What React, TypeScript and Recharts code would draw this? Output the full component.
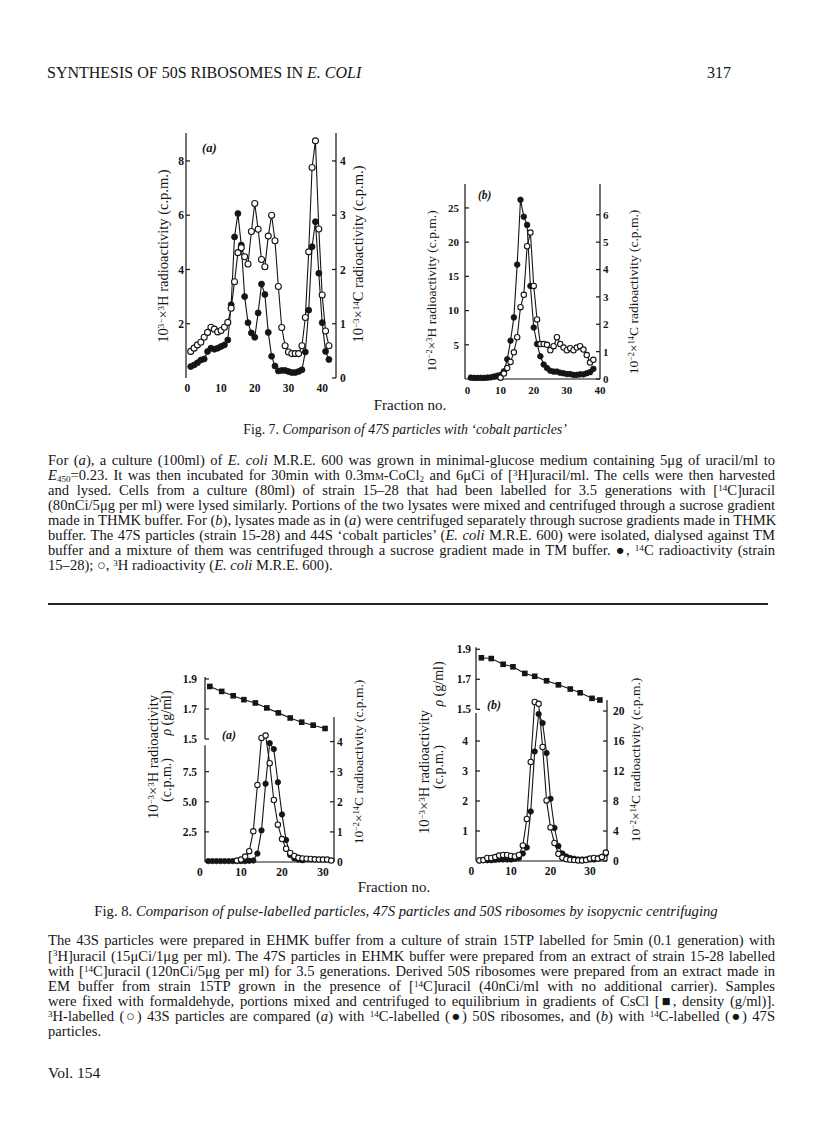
import React from 'react';
import { LineChart, Line, XAxis, YAxis, ReferenceLine } from 'recharts';

const SERIF = '"Liberation Serif", "Times New Roman", serif';
const INK = '#151515';

// ---------- Fig. 7a (fractions start at 1) ----------
const f7aStart = 1;
const f7aH3 = [0.98, 1.1, 1.22, 1.32, 1.5, 1.68, 1.87, 1.8, 1.7, 1.75, 1.87, 2.05, 2.57, 3.55, 4.62, 4.8, 4.47, 4.2, 5.4, 6.43, 5.48, 4.37, 4.1, 5.23, 6.0, 5.06, 3.37, 1.86, 1.19, 0.96, 0.9, 0.9, 0.9, 1.19, 2.23, 4.65, 7.76, 8.74, 5.49, 3.06, 1.73, 1.19];
const f7aC14 = [0.21, 0.24, 0.28, 0.33, 0.35, 0.49, 0.55, 0.53, 0.55, 0.58, 0.61, 0.7, 1.35, 2.6, 3.03, 2.45, 1.5, 1.02, 0.83, 0.75, 1.2, 1.73, 1.54, 0.84, 0.4, 0.22, 0.13, 0.14, 0.14, 0.12, 0.1, 0.1, 0.12, 0.15, 0.48, 1.25, 2.42, 2.88, 1.93, 1.02, 0.49, 0.34];
const f7aXTicks = [0, 10, 20, 30, 40];
const f7aLeftTicks = [2, 4, 6, 8];
const f7aRightTicks = [0, 1, 2, 3, 4];

// ---------- Fig. 7b ----------
const f7bC14Start = 1;
const f7bC14 = [0.05, 0.04, 0.04, 0.04, 0.04, 0.05, 0.06, 0.09, 0.12, 0.15, 0.28, 0.72, 1.4, 2.25, 4.18, 6.55, 5.93, 5.63, 3.4, 1.88, 1.28, 0.83, 0.53, 0.4, 0.3, 0.27, 0.27, 0.23, 0.21, 0.18, 0.18, 0.15, 0.15, 0.17, 0.17, 0.21, 0.25, 0.37];
const f7bH3Start = 10;
const f7bH3 = [0.2, 0.8, 1.6, 2.5, 3.9, 6.1, 10.5, 12.3, 19.4, 21.4, 13.6, 8.7, 5.1, 5.1, 5.0, 4.2, 4.8, 6.1, 5.1, 4.6, 4.2, 4.5, 4.2, 4.6, 4.8, 4.3, 3.5, 2.4, 2.8];
const f7bXTicks = [0, 10, 20, 30, 40];
const f7bLeftTicks = [5, 10, 15, 20, 25];
const f7bRightTicks = [0, 1, 2, 3, 4, 5, 6];

// ---------- Fig. 8a ----------
const f8aH3Start = 9;
const f8aH3 = [0.12, 0.2, 0.45, 0.9, 2.55, 6.4, 10.3, 10.5, 8.2, 5.15, 3.1, 1.9, 1.1, 0.75, 0.5, 0.35, 0.3, 0.28, 0.25, 0.22, 0.2, 0.2, 0.2, 0.12];
const f8aC14Start = 2;
const f8aC14 = [0.03, 0.03, 0.03, 0.03, 0.03, 0.03, 0.03, 0.03, 0.03, 0.03, 0.04, 0.05, 0.28, 1.05, 2.6, 3.95, 3.75, 2.65, 1.58, 0.73, 0.23, 0.12, 0.08, 0.06];
const f8aDensityX = [2.4, 5.3, 8.1, 10.7, 13.5, 16.3, 19.1, 22, 24.8, 27.6, 30.5];
const f8aDensity = [1.85, 1.817, 1.788, 1.762, 1.74, 1.707, 1.674, 1.64, 1.612, 1.592, 1.57];
const f8aXTicks = [0, 10, 20, 30];
const f8aLeftTicks = [2.5, 5.0, 7.5];
const f8aRightTicks = [0, 1, 2, 3, 4];

// ---------- Fig. 8b ----------
const f8bH3Start = 2;
const f8bH3 = [0.02, 0.03, 0.1, 0.1, 0.13, 0.18, 0.2, 0.2, 0.17, 0.15, 0.2, 0.52, 1.4, 3.3, 5.3, 5.24, 3.8, 2.02, 1.12, 0.6, 0.24, 0.11, 0.06, 0.04, 0.03, 0.02, 0.02, 0.03, 0.08, 0.1, 0.08, 0.13, 0.28];
const f8bC14Start = 2;
const f8bC14 = [0.1, 0.1, 0.1, 0.1, 0.15, 0.2, 0.2, 0.2, 0.2, 0.3, 0.4, 1.0, 1.8, 6.6, 14.6, 19.6, 18.4, 14.4, 8.3, 4.4, 2.0, 1.0, 0.6, 0.4, 0.3, 0.2, 0.2, 0.2, 0.2, 0.2, 0.3, 0.5, 1.0];
const f8bDensityX = [2.5, 5, 8, 10.5, 13.5, 16, 19, 22, 25, 27.5, 30.5, 32.5];
const f8bDensity = [1.843, 1.838, 1.8, 1.783, 1.739, 1.72, 1.69, 1.663, 1.635, 1.61, 1.573, 1.562];
const f8bXTicks = [0, 10, 20, 30];
const f8bLeftTicks = [1, 2, 3, 4];
const f8bRightTicks = [0, 4, 8, 12, 16, 20];
const densityTicks = [1.5, 1.7, 1.9];

const seq = (start: number, vals: number[]) => vals.map((y, i) => ({ x: start + i, y }));
const pairs = (xs: number[], vals: number[]) => vals.map((y, i) => ({ x: xs[i], y }));

const tickFont = (size: number) => ({ fontFamily: SERIF, fontSize: size, fill: INK, fontWeight: 700 });
const axisStroke = { stroke: INK, strokeWidth: 1.2 };

const openDot = (r: number) => ({ r, fill: '#fff', stroke: INK, strokeWidth: 1.1 });
const filledDot = (r: number) => ({ r, fill: INK, stroke: INK, strokeWidth: 0.8 });

const SquareDot = (props: any) => {
  const { cx, cy, index } = props;
  if (cx == null || cy == null) return <g key={`sq-${index}`} />;
  return <rect key={`sq-${index}`} x={cx - 2.8} y={cy - 2.8} width={5.6} height={5.6} fill={INK} />;
};

const Sup = ({ children }: { children: React.ReactNode }) => (
  <span style={{ fontSize: '0.62em', position: 'relative', top: '-0.45em', lineHeight: 0 }}>{children}</span>
);
const Sub = ({ children }: { children: React.ReactNode }) => (
  <span style={{ fontSize: '0.62em', position: 'relative', top: '0.25em', lineHeight: 0 }}>{children}</span>
);

const VLabel = ({ x, y, size, children }: { x: number; y: number; size: number; children: React.ReactNode }) => (
  <div
    style={{
      position: 'absolute',
      left: x,
      top: y,
      transform: 'translate(-50%, -50%) rotate(-90deg)',
      whiteSpace: 'nowrap',
      fontFamily: SERIF,
      fontSize: size,
      lineHeight: 1,
      color: INK,
    }}
  >
    {children}
  </div>
);

const Abs = ({ x, y, children, style }: { x: number; y: number; children: React.ReactNode; style?: React.CSSProperties }) => (
  <div style={{ position: 'absolute', left: x, top: y, whiteSpace: 'nowrap', fontFamily: SERIF, color: INK, ...style }}>{children}</div>
);

const Centered = ({ cx, cy, size, children }: { cx: number; cy: number; size: number; children: React.ReactNode }) => (
  <div
    style={{
      position: 'absolute',
      left: cx,
      top: cy,
      transform: 'translate(-50%, -50%)',
      whiteSpace: 'nowrap',
      fontFamily: SERIF,
      fontSize: size,
      lineHeight: 1.2,
      color: INK,
    }}
  >
    {children}
  </div>
);

const LH = 15.15;
const TextLine = ({ children, last }: { children: React.ReactNode; last?: boolean }) => (
  <div
    style={{
      height: LH,
      lineHeight: `${LH}px`,
      whiteSpace: 'nowrap',
      textAlign: 'justify',
      textAlignLast: last ? 'left' : 'justify',
    } as React.CSSProperties}
  >
    {children}
  </div>
);

const Paragraph = ({ top, children }: { top: number; children: React.ReactNode }) => (
  <div style={{ position: 'absolute', left: 48, top, width: 727, fontFamily: SERIF, fontSize: 14.6, color: INK }}>{children}</div>
);

const sm = { fontVariant: 'small-caps' } as React.CSSProperties;

function Fig7a() {
  return (
    <div style={{ position: 'absolute', left: 150, top: 120 }}>
      <LineChart width={230} height={285} margin={{ top: 13, right: 0, bottom: 0, left: 0 }}>
        <XAxis type="number" dataKey="x" domain={[-0.4, 44.1]} ticks={f7aXTicks} interval={0} axisLine={false} tickLine={false} tickSize={3} tickMargin={3} height={27} tick={tickFont(11.5)} />
        <YAxis yAxisId="l" domain={[0, 9.03]} ticks={f7aLeftTicks} interval={0} width={36} axisLine={axisStroke} tickLine={axisStroke} tickSize={-4} tickMargin={6} tick={tickFont(11.5)} />
        <YAxis yAxisId="r" orientation="right" domain={[0, 4.515]} ticks={f7aRightTicks} interval={0} width={44} axisLine={axisStroke} tickLine={axisStroke} tickSize={-4} tickMargin={8} tick={tickFont(11.5)} />
        <Line yAxisId="r" data={seq(f7aStart, f7aC14)} dataKey="y" type="linear" stroke={INK} strokeWidth={1.1} dot={filledDot(3)} activeDot={false} isAnimationActive={false} />
        <Line yAxisId="l" data={seq(f7aStart, f7aH3)} dataKey="y" type="linear" stroke={INK} strokeWidth={1.1} dot={openDot(3)} activeDot={false} isAnimationActive={false} />
      </LineChart>
    </div>
  );
}

function Fig7b() {
  return (
    <div style={{ position: 'absolute', left: 420, top: 170 }}>
      <LineChart width={240} height={235} margin={{ top: 14, right: 0, bottom: 0, left: 0 }}>
        <XAxis type="number" dataKey="x" domain={[-0.75, 40]} ticks={f7bXTicks} interval={0} axisLine={axisStroke} tickLine={false} tickSize={3} tickMargin={4} height={26} tick={tickFont(11)} />
        <YAxis yAxisId="l" domain={[0, 28.5]} ticks={f7bLeftTicks} interval={0} width={45} axisLine={axisStroke} tickLine={axisStroke} tickSize={-4} tickMargin={10} tick={tickFont(11)} />
        <YAxis yAxisId="r" orientation="right" domain={[0, 7.125]} ticks={f7bRightTicks} interval={0} width={60} axisLine={axisStroke} tickLine={axisStroke} tickSize={-4} tickMargin={7} tick={tickFont(11)} />
        <Line yAxisId="r" data={seq(f7bC14Start, f7bC14)} dataKey="y" type="linear" stroke={INK} strokeWidth={1.1} dot={filledDot(2.8)} activeDot={false} isAnimationActive={false} />
        <Line yAxisId="l" data={seq(f7bH3Start, f7bH3)} dataKey="y" type="linear" stroke={INK} strokeWidth={1.1} dot={openDot(2.7)} activeDot={false} isAnimationActive={false} />
      </LineChart>
    </div>
  );
}

function Fig8a() {
  const xDom: [number, number] = [1.22, 32.68];
  return (
    <>
      <div style={{ position: 'absolute', left: 140, top: 660 }}>
        <LineChart width={240} height={235} margin={{ top: 57, right: 0, bottom: 0, left: 0 }}>
          <XAxis type="number" dataKey="x" domain={xDom} ticks={f8aXTicks} interval={0} axisLine={axisStroke} tickLine={false} tickSize={3} tickMargin={3} height={33} tick={tickFont(11.5)} />
          <YAxis yAxisId="l" domain={[0, 12.04]} ticks={f8aLeftTicks} interval={0} tickFormatter={(v: number) => v.toFixed(1)} width={65} axisLine={false} tickLine={axisStroke} tickSize={-4} tickMargin={12} tick={tickFont(11.5)} />
          <YAxis yAxisId="r" orientation="right" domain={[0, 4.817]} ticks={f8aRightTicks} interval={0} width={46} axisLine={axisStroke} tickLine={axisStroke} tickSize={-4} tickMargin={7} tick={tickFont(11.5)} />
          <ReferenceLine yAxisId="l" segment={[{ x: xDom[0], y: 0 }, { x: xDom[0], y: 9.7 }]} stroke={INK} strokeWidth={1.2} ifOverflow="visible" />
          <Line yAxisId="r" data={seq(f8aC14Start, f8aC14)} dataKey="y" type="linear" stroke={INK} strokeWidth={1.1} dot={filledDot(2.7)} activeDot={false} isAnimationActive={false} />
          <Line yAxisId="l" data={seq(f8aH3Start, f8aH3)} dataKey="y" type="linear" stroke={INK} strokeWidth={1.1} dot={openDot(2.7)} activeDot={false} isAnimationActive={false} />
        </LineChart>
      </div>
      <div style={{ position: 'absolute', left: 140, top: 660 }}>
        <LineChart width={240} height={85} margin={{ top: 17, right: 46, bottom: 6, left: 0 }}>
          <XAxis type="number" dataKey="x" domain={xDom} hide />
          <YAxis domain={[1.5, 1.913]} ticks={densityTicks} interval={0} tickFormatter={(v: number) => v.toFixed(1)} width={65} axisLine={axisStroke} tickLine={axisStroke} tickSize={-4} tickMargin={12} tick={tickFont(11.5)} />
          <Line data={pairs(f8aDensityX, f8aDensity)} dataKey="y" type="linear" stroke={INK} strokeWidth={1.1} dot={SquareDot} activeDot={false} isAnimationActive={false} />
        </LineChart>
      </div>
    </>
  );
}

function Fig8b() {
  const xDom: [number, number] = [1.14, 34.3];
  return (
    <>
      <div style={{ position: 'absolute', left: 405, top: 630 }}>
        <LineChart width={250} height={265} margin={{ top: 70, right: 0, bottom: 0, left: 0 }}>
          <XAxis type="number" dataKey="x" domain={xDom} ticks={f8bXTicks} interval={0} axisLine={axisStroke} tickLine={false} tickSize={3} tickMargin={3} height={34} tick={tickFont(11.5)} />
          <YAxis yAxisId="l" domain={[0, 5.367]} ticks={f8bLeftTicks} interval={0} width={71} axisLine={false} tickLine={axisStroke} tickSize={-4} tickMargin={12} tick={tickFont(11.5)} />
          <YAxis yAxisId="r" orientation="right" domain={[0, 21.47]} ticks={f8bRightTicks} interval={0} width={48} axisLine={axisStroke} tickLine={axisStroke} tickSize={-4} tickMargin={10} tick={tickFont(11.5)} />
          <ReferenceLine yAxisId="l" segment={[{ x: xDom[0], y: 0 }, { x: xDom[0], y: 4.93 }]} stroke={INK} strokeWidth={1.2} ifOverflow="visible" />
          <Line yAxisId="r" data={seq(f8bC14Start, f8bC14)} dataKey="y" type="linear" stroke={INK} strokeWidth={1.1} dot={filledDot(2.7)} activeDot={false} isAnimationActive={false} />
          <Line yAxisId="l" data={seq(f8bH3Start, f8bH3)} dataKey="y" type="linear" stroke={INK} strokeWidth={1.1} dot={openDot(2.7)} activeDot={false} isAnimationActive={false} />
        </LineChart>
      </div>
      <div style={{ position: 'absolute', left: 405, top: 630 }}>
        <LineChart width={250} height={85} margin={{ top: 17.3, right: 48, bottom: 5.7, left: 0 }}>
          <XAxis type="number" dataKey="x" domain={xDom} hide />
          <YAxis domain={[1.5, 1.913]} ticks={densityTicks} interval={0} tickFormatter={(v: number) => v.toFixed(1)} width={71} axisLine={axisStroke} tickLine={axisStroke} tickSize={-4} tickMargin={9} tick={tickFont(11.5)} />
          <Line data={pairs(f8bDensityX, f8bDensity)} dataKey="y" type="linear" stroke={INK} strokeWidth={1.1} dot={SquareDot} activeDot={false} isAnimationActive={false} />
        </LineChart>
      </div>
    </>
  );
}

export default function App() {
  return (
    <div style={{ position: 'absolute', left: 0, top: 0, width: 816, height: 1136, background: '#fff', overflow: 'hidden' }}>
      {/* running head */}
      <Abs x={47} y={63} style={{ fontSize: 16, lineHeight: '20px' }}>
        SYNTHESIS OF 50S RIBOSOMES IN <i>E. COLI</i>
      </Abs>
      <div style={{ position: 'absolute', right: 85, top: 63, fontFamily: SERIF, fontSize: 16, lineHeight: '20px', color: INK }}>317</div>

      {/* Fig 7 */}
      <Fig7a />
      <Fig7b />
      <Abs x={202} y={140} style={{ fontSize: 12.5, fontStyle: 'italic', fontWeight: 700, lineHeight: '16px' }}>(a)</Abs>
      <Abs x={478} y={187} style={{ fontSize: 11.5, fontStyle: 'italic', fontWeight: 700, lineHeight: '16px' }}>(b)</Abs>
      <VLabel x={163} y={256} size={14.5}>10<Sup>3−</Sup>×<Sup>3</Sup>H radioactivity (c.p.m.)</VLabel>
      <VLabel x={358} y={254} size={14.5}>10<Sup>−3</Sup>×<Sup>14</Sup>C radioactivity (c.p.m.)</VLabel>
      <VLabel x={432} y={291} size={13.5}>10<Sup>−2</Sup>×<Sup>3</Sup>H radioactivity (c.p.m.)</VLabel>
      <VLabel x={634} y={292} size={13.5}>10<Sup>−2</Sup>×<Sup>14</Sup>C radioactivity (c.p.m.)</VLabel>
      <Centered cx={410} cy={405} size={15}>Fraction no.</Centered>
      <Centered cx={405} cy={430} size={13.8}>Fig. 7. <i>Comparison of 47S particles with ‘cobalt particles’</i></Centered>

      <Paragraph top={452.5}>
        <TextLine>For (<i>a</i>), a culture (100ml) of <i>E. coli</i> M.R.E. 600 was grown in minimal-glucose medium containing 5μg of uracil/ml to</TextLine>
        <TextLine><i>E</i><Sub>450</Sub>=0.23. It was then incubated for 30min with 0.3m<span style={sm}>m</span>-CoCl<Sub>2</Sub> and 6μCi of [<Sup>3</Sup>H]uracil/ml. The cells were then harvested</TextLine>
        <TextLine>and lysed. Cells from a culture (80ml) of strain 15–28 that had been labelled for 3.5 generations with [<Sup>14</Sup>C]uracil</TextLine>
        <TextLine>(80nCi/5μg per ml) were lysed similarly. Portions of the two lysates were mixed and centrifuged through a sucrose gradient</TextLine>
        <TextLine>made in THMK buffer. For (<i>b</i>), lysates made as in (<i>a</i>) were centrifuged separately through sucrose gradients made in THMK</TextLine>
        <TextLine>buffer. The 47S particles (strain 15-28) and 44S ‘cobalt particles’ (<i>E. coli</i> M.R.E. 600) were isolated, dialysed against TM</TextLine>
        <TextLine>buffer and a mixture of them was centrifuged through a sucrose gradient made in TM buffer. ●, <Sup>14</Sup>C radioactivity (strain</TextLine>
        <TextLine last>15–28); ○, <Sup>3</Sup>H radioactivity (<i>E. coli</i> M.R.E. 600).</TextLine>
      </Paragraph>

      <div style={{ position: 'absolute', left: 48, top: 603, width: 720, height: 2, background: '#222' }} />

      {/* Fig 8 */}
      <Fig8a />
      <Fig8b />
      <Abs x={222} y={727} style={{ fontSize: 12, fontStyle: 'italic', fontWeight: 700, lineHeight: '16px' }}>(a)</Abs>
      <Abs x={487} y={697} style={{ fontSize: 12, fontStyle: 'italic', fontWeight: 700, lineHeight: '16px' }}>(b)</Abs>
      <VLabel x={153} y={757} size={14.5}>10<Sup>−3</Sup>×<Sup>3</Sup>H radioactivity</VLabel>
      <VLabel x={167} y={713} size={14}><i>ρ</i> (g/ml)</VLabel>
      <VLabel x={167} y={780} size={14}>(c.p.m.)</VLabel>
      <VLabel x={359} y={762} size={13.5}>10<Sup>−2</Sup>×<Sup>14</Sup>C radioactivity (c.p.m.)</VLabel>
      <VLabel x={424} y={772} size={14.5}>10<Sup>−3</Sup>×<Sup>3</Sup>H radioactivity</VLabel>
      <VLabel x={439} y={684} size={14}><i>ρ</i> (g/ml)</VLabel>
      <VLabel x={439} y={767} size={14}>(c.p.m.)</VLabel>
      <VLabel x={636} y={760} size={13.5}>10<Sup>−2</Sup>×<Sup>14</Sup>C radioactivity (c.p.m.)</VLabel>
      <Centered cx={394} cy={887} size={15}>Fraction no.</Centered>
      <Centered cx={406} cy={912} size={14.7}>Fig. 8. <i>Comparison of pulse-labelled particles, 47S particles and 50S ribosomes by isopycnic centrifuging</i></Centered>

      <Paragraph top={933.4}>
        <TextLine>The 43S particles were prepared in EHMK buffer from a culture of strain 15TP labelled for 5min (0.1 generation) with</TextLine>
        <TextLine>[<Sup>3</Sup>H]uracil (15μCi/1μg per ml). The 47S particles in EHMK buffer were prepared from an extract of strain 15-28 labelled</TextLine>
        <TextLine>with [<Sup>14</Sup>C]uracil (120nCi/5μg per ml) for 3.5 generations. Derived 50S ribosomes were prepared from an extract made in</TextLine>
        <TextLine>EM buffer from strain 15TP grown in the presence of [<Sup>14</Sup>C]uracil (40nCi/ml with no additional carrier). Samples</TextLine>
        <TextLine>were fixed with formaldehyde, portions mixed and centrifuged to equilibrium in gradients of CsCl [■, density (g/ml)].</TextLine>
        <TextLine><Sup>3</Sup>H-labelled (○) 43S particles are compared (<i>a</i>) with <Sup>14</Sup>C-labelled (●) 50S ribosomes, and (<i>b</i>) with <Sup>14</Sup>C-labelled (●) 47S</TextLine>
        <TextLine last>particles.</TextLine>
      </Paragraph>

      <Abs x={48} y={1063} style={{ fontSize: 15.5, lineHeight: '20px' }}>Vol. 154</Abs>
    </div>
  );
}
